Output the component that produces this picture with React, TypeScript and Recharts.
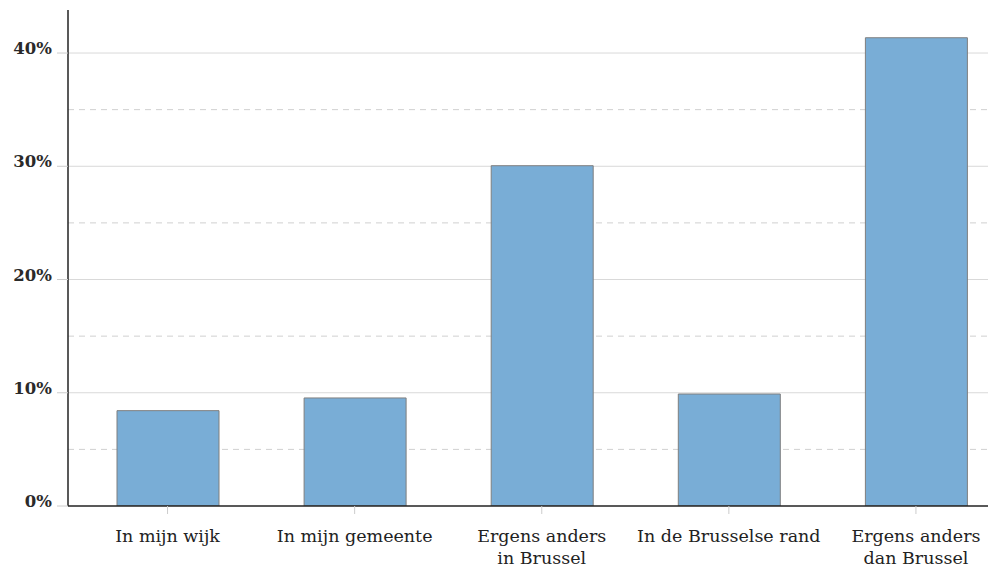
import React from 'react';
import { BarChart, Bar, XAxis, YAxis, CartesianGrid } from 'recharts';

const categories = ['In mijn wijk', 'In mijn gemeente', 'Ergens anders\nin Brussel', 'In de Brusselse rand', 'Ergens anders\ndan Brussel'];
const shares = [8.42, 9.54, 30.05, 9.89, 41.35];
const yTicks = [0, 10, 20, 30, 40];
const majorGrid = [10, 20, 30, 40];
const minorGrid = [5, 15, 25, 35];

const data = categories.map((c, i) => ({ name: c, value: shares[i] }));

const FONT = '"DejaVu Serif", serif';

const XTick = (props: any) => {
  const { x, y, payload } = props;
  const lines = String(payload.value).split('\n');
  return (
    <text x={x} y={y} textAnchor="middle" fontFamily={FONT} fontSize={17.5} fill="#222">
      {lines.map((l: string, i: number) => (
        <tspan key={i} x={x} dy={i === 0 ? 26 : 22}>{l}</tspan>
      ))}
    </text>
  );
};

const YTick = (props: any) => {
  const { x, y, payload } = props;
  return (
    <text x={x} y={y + 1} textAnchor="end" fontFamily={FONT} fontSize={16.5} fontWeight={600} fill="#2a2a2a">
      {payload.value}%
    </text>
  );
};

export default function App() {
  return (
    <div style={{ position: 'absolute', left: 0, top: 0, width: 990, height: 568, overflow: 'hidden', background: '#fff' }}>
      <BarChart width={990} height={568} data={data} margin={{ top: 10, right: 2, bottom: 0, left: 0 }}>
        <CartesianGrid vertical={false} horizontalValues={majorGrid} stroke="#d9d9d9" strokeWidth={1} />
        <CartesianGrid vertical={false} horizontalValues={minorGrid} stroke="#d0d0d0" strokeDasharray="6 5" strokeWidth={1} />
        <XAxis
          dataKey="name"
          height={62}
          padding={{ left: 6, right: -21.5 }}
          axisLine={{ stroke: '#222', strokeWidth: 1.5 }}
          tickLine={{ stroke: '#ccc' }}
          tickSize={8}
          tickMargin={2}
          tick={<XTick />}
          interval={0}
        />
        <YAxis
          width={68}
          domain={[0, 43.8]}
          ticks={yTicks}
          allowDataOverflow
          axisLine={{ stroke: '#222', strokeWidth: 1.5 }}
          tickLine={{ stroke: '#ccc' }}
          tickSize={11}
          tickMargin={5}
          tick={<YTick />}
        />
        <Bar dataKey="value" barSize={102} fill="#79add6" stroke="#7f7f7f" strokeWidth={1} isAnimationActive={false} />
      </BarChart>
    </div>
  );
}
